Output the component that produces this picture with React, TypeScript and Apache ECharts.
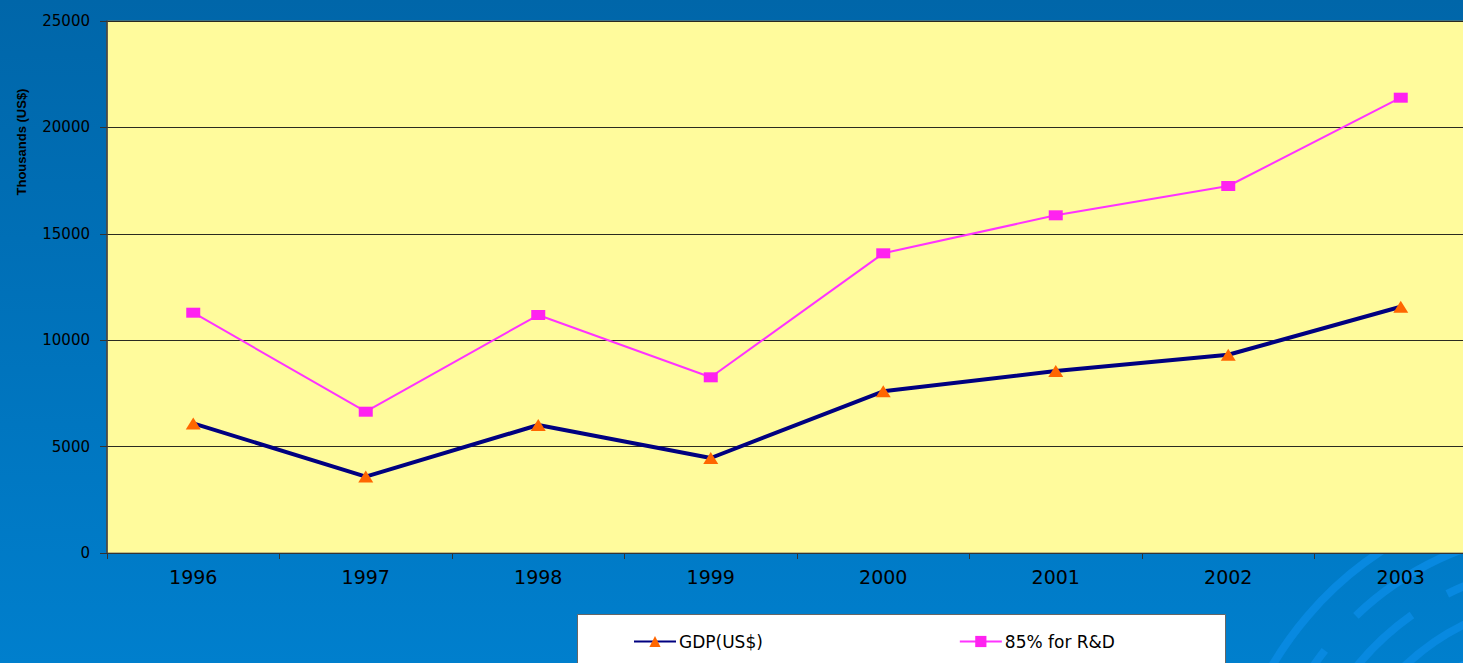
import React, { useEffect, useRef } from "react";
import * as echarts from "echarts";

const years = ["1996", "1997", "1998", "1999", "2000", "2001", "2002", "2003"];
const gdp = [6090, 3590, 6015, 4464, 7597, 8553, 9314, 11570];
const rnd = [11292, 6640, 11184, 8256, 14083, 15869, 17246, 21396];
const seriesNames = ["GDP(US$)", "85% for R&D"];
const yAxisTitle = "Thousands (US$)";

export default function App() {
  const ref = useRef<HTMLDivElement>(null);

  useEffect(() => {
    if (!ref.current) return;
    const chart = echarts.init(ref.current, undefined, { renderer: "svg" });

    const ringCx = 1570;
    const ringCy = 840;
    const rings = [
      { r: 345, s: 3.4, e: 4.3 },
      { r: 310, s: 3.35, e: 3.8 },
      { r: 310, s: 3.95, e: 4.6 },
      { r: 275, s: 3.5, e: 4.1 },
      { r: 275, s: 4.25, e: 4.7 },
      { r: 240, s: 3.55, e: 3.7 },
      { r: 240, s: 3.95, e: 4.75 },
      { r: 205, s: 3.65, e: 4.8 },
      { r: 170, s: 3.75, e: 4.85 },
      { r: 135, s: 3.85, e: 4.9 },
    ];

    const option: any = {
      animation: false,
      backgroundColor: new echarts.graphic.LinearGradient(0, 0, 0, 1, [
        { offset: 0, color: "#0066A9" },
        { offset: 1, color: "#007FCD" },
      ]),
      grid: {
        left: 107,
        top: 21,
        right: 13,
        bottom: 110,
        show: true,
        backgroundColor: "#FFFB9C",
        borderColor: "#7A7A60",
        borderWidth: 1,
        z: 2,
      },
      xAxis: {
        type: "category",
        data: years,
        boundaryGap: true,
        axisLine: { show: true, lineStyle: { color: "#333333", width: 1 } },
        axisTick: { show: true, length: 6, lineStyle: { color: "#333333" } },
        axisLabel: {
          color: "#000000",
          fontFamily: "DejaVu Sans",
          fontSize: 19,
          margin: 14,
        },
        splitLine: { show: false },
        z: 3,
      },
      yAxis: {
        type: "value",
        min: 0,
        max: 25000,
        interval: 5000,
        axisLine: { show: true, lineStyle: { color: "#404040", width: 1.5 } },
        axisTick: { show: true, length: 7, inside: false, lineStyle: { color: "#333333" } },
        axisLabel: {
          color: "#000000",
          fontFamily: "DejaVu Sans",
          fontSize: 15,
          margin: 17,
          formatter: (v: number) => String(v),
        },
        splitLine: { show: true, lineStyle: { color: "#2A2A20", width: 1 } },
        z: 3,
      },
      legend: {
        show: true,
        data: seriesNames,
        left: 633,
        top: 633,
        padding: 0,
        itemWidth: 42,
        itemHeight: 14,
        itemGap: 196,
        textStyle: { color: "#000000", fontFamily: "DejaVu Sans", fontSize: 17, padding: [0, 0, 0, -2] },
        z: 10,
      },
      graphic: [
        ...rings.map((g) => ({
          type: "arc",
          z: -1,
          silent: true,
          shape: { cx: ringCx, cy: ringCy, r: g.r, startAngle: g.s, endAngle: g.e },
          style: { stroke: "#0889E0", lineWidth: 8, fill: null },
        })),
        {
          type: "rect",
          z: 5,
          shape: { x: 577.5, y: 614.5, width: 648, height: 70 },
          style: { fill: "#FFFFFF", stroke: "#666666", lineWidth: 1 },
        },
        {
          type: "text",
          z: 5,
          x: 21,
          y: 142,
          rotation: Math.PI / 2,
          style: {
            text: yAxisTitle,
            fill: "#000000",
            font: "bold 13px 'Liberation Sans', Arial, sans-serif",
            align: "center",
            verticalAlign: "middle",
          },
        },
      ],
      series: [
        {
          name: seriesNames[0],
          type: "line",
          data: gdp,
          symbol: "triangle",
          symbolSize: [15, 12],
          lineStyle: { color: "#000080", width: 4 },
          itemStyle: { color: "#FF6600" },
          z: 4,
        },
        {
          name: seriesNames[1],
          type: "line",
          data: rnd,
          symbol: "rect",
          symbolSize: [14, 10],
          lineStyle: { color: "#FF33FF", width: 2 },
          itemStyle: { color: "#FF22F0" },
          z: 4,
        },
      ],
    };

    chart.setOption(option);
    return () => chart.dispose();
  }, []);

  return (
    <div
      style={{
        position: "fixed",
        left: 0,
        top: 0,
        width: 1463,
        height: 663,
        overflow: "hidden",
      }}
    >
      <div ref={ref} style={{ width: 1500, height: 663 }} />
    </div>
  );
}
